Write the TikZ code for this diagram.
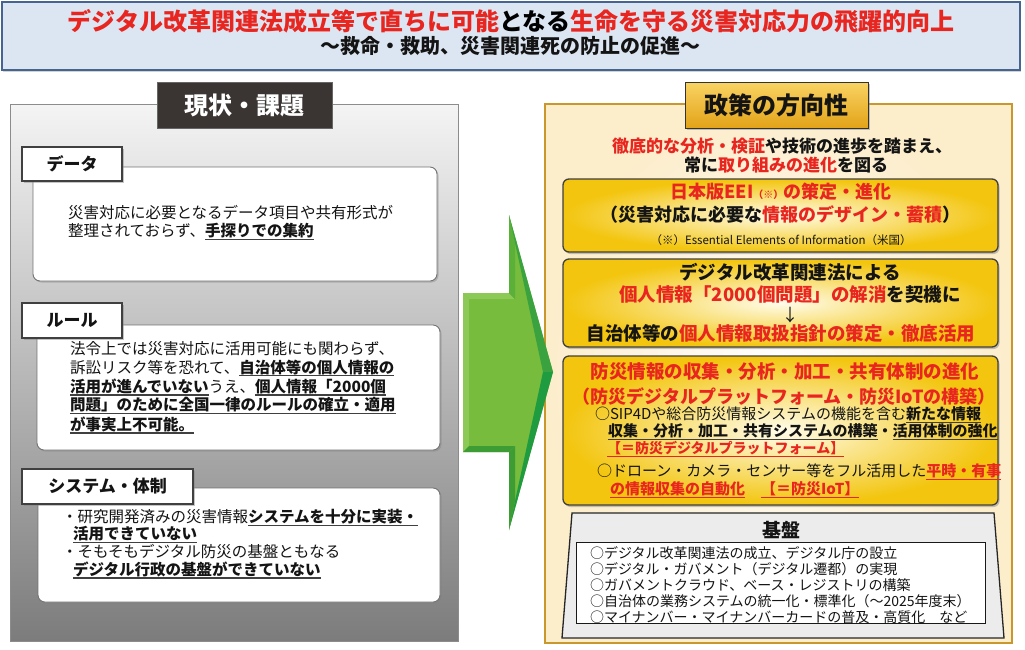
\documentclass[tikz,border=0pt]{standalone}
\usepackage{fontspec}
\setmainfont{Noto Sans CJK JP}
\usetikzlibrary{shadows}
\definecolor{jred}{HTML}{E8251F}
\definecolor{titlefill}{HTML}{DCE6F2}
\definecolor{titledraw}{HTML}{46648F}
\definecolor{paneltop}{HTML}{F4F4F4}
\definecolor{panelbot}{HTML}{7C7C7C}
\definecolor{headdark}{HTML}{3A3432}
\definecolor{goldline}{HTML}{C9972B}
\definecolor{creamout}{HTML}{FCEDCB}
\definecolor{yelout}{HTML}{F3C50E}
\definecolor{yelin}{HTML}{FFFCEA}
\definecolor{goldtop}{HTML}{F9D363}
\definecolor{goldbot}{HTML}{E2A318}
\definecolor{ulg}{HTML}{404040}
\definecolor{grA}{HTML}{77BC3C}
\definecolor{grLight}{HTML}{8DC957}
\definecolor{grMid}{HTML}{5BB03A}
\definecolor{grDark}{HTML}{3AA33F}
\definecolor{grDarker}{HTML}{1F9C40}
\definecolor{grBot}{HTML}{3E9C35}
\definecolor{basefill}{HTML}{ECECEC}
\newcommand\fsz[1]{\fontsize{#1}{#1}\selectfont}
\newcommand\ulx[2]{\setbox0\hbox{#2}\rlap{\color{#1}\rule[-3.4pt]{\wd0}{1.1pt}}\box0}
\newcommand\ulb[1]{\ulx{ulg}{\bfseries #1}}
\tikzset{
  every node/.style={inner sep=0pt, outer sep=0pt, text=black!92},
  titlebox/.style={fill=titlefill, draw=titledraw, line width=1.6pt, drop shadow={shadow xshift=1pt, shadow yshift=-2pt, opacity=.35}},
  leftpanel/.style={top color=paneltop, bottom color=panelbot, draw=black!45, line width=1pt},
  darkhead/.style={fill=headdark, draw=black!60, line width=.8pt},
  labelbox/.style={fill=white, draw=black!75, line width=2.4pt, drop shadow={shadow xshift=1.5pt, shadow yshift=-1.5pt, opacity=.45}},
  whitebox/.style={fill=white, draw=black!55, line width=.9pt, rounded corners=7pt, drop shadow={shadow xshift=1.5pt, shadow yshift=-1.5pt, opacity=.4}},
  rightpanel/.style={inner color=white, outer color=creamout, draw=goldline, line width=2.6pt},
  goldhead/.style={top color=goldtop, bottom color=goldbot, draw=black!80, line width=1pt, drop shadow={shadow xshift=1.5pt, shadow yshift=-1.5pt, opacity=.45}},
  yelbox/.style={inner color=yelin, outer color=yelout, draw=black!75, line width=1.3pt, rounded corners=6pt, drop shadow={shadow xshift=1.5pt, shadow yshift=-2pt, opacity=.45}},
  lefttxt/.style={anchor=west, font=\fsz{15.5}},
  basetxt/.style={anchor=west, font=\fsz{14}},
  subtxt/.style={anchor=west, font=\fsz{15}},
}
\begin{document}
\begin{tikzpicture}[x=1pt,y=-1pt]
\useasboundingbox (0,0) rectangle (1025,649);
\fill[white] (0,0) rectangle (1025,649);

% ---------- title ----------
\node[titlebox, minimum width=1018pt, minimum height=68pt] (title) at (511,36) {};
\node (t1) at (511,21) {\fsz{24}\bfseries\color{jred}デジタル改革関連法成立等で直ちに可能\textcolor{black}{となる}生命を守る災害対応力の飛躍的向上};
\node (t2) at (510,46) {\fsz{20}\bfseries ～救命・救助、災害関連死の防止の促進～};

% ---------- left panel ----------
\node[leftpanel, minimum width=448pt, minimum height=537pt] (lp) at (234,372.5) {};
\node[darkhead, minimum width=175pt, minimum height=46pt] (lh) at (244.5,105) {\fsz{24}\bfseries\color{white}現状・課題};

% data
\node[whitebox, minimum width=404pt, minimum height=114pt] (db) at (235,224) {};
\node[labelbox, minimum width=100pt, minimum height=34pt] (dl) at (72,164) {\fsz{17}\bfseries データ};
\node[lefttxt] (d1) at (68,213) {災害対応に必要となるデータ項目や共有形式が};
\node[lefttxt] (d2) at (68,232) {整理されておらず、\ulb{手探りでの集約}};

% rule
\node[whitebox, minimum width=403pt, minimum height=125pt] (rb) at (238.5,387.5) {};
\node[labelbox, minimum width=100pt, minimum height=35pt] (rl) at (72,320.5) {\fsz{17}\bfseries ルール};
\node[lefttxt] (r1) at (70,349) {法令上では災害対応に活用可能にも関わらず、};
\node[lefttxt] (r2) at (70,368) {訴訟リスク等を恐れて、\ulb{自治体等の個人情報の}};
\node[lefttxt] (r3) at (70,387) {\ulb{活用が進んでいない}うえ、\ulb{個人情報「2000個}};
\node[lefttxt] (r4) at (70,406) {\ulb{問題」のために全国一律のルールの確立・適用}};
\node[lefttxt] (r5) at (70,425) {\ulb{が事実上不可能。}};

% system
\node[whitebox, minimum width=402pt, minimum height=114pt] (sb) at (239,545) {};
\node[labelbox, minimum width=171pt, minimum height=35pt] (sl) at (107.5,486.5) {\fsz{17}\bfseries システム・体制};
\node[lefttxt] (s1) at (62,518) {・研究開発済みの災害情報\ulb{システムを十分に実装・}};
\node[lefttxt] (s2) at (73,535) {\ulb{活用できていない}};
\node[lefttxt] (s3) at (62,552) {・そもそもデジタル防災の基盤ともなる};
\node[lefttxt] (s4) at (73,570) {\ulb{デジタル行政の基盤ができていない}};

% ---------- right panel ----------
\node[rightpanel, minimum width=467pt, minimum height=539pt] (rp) at (778.5,373.5) {};
\node[goldhead, minimum width=183pt, minimum height=46pt] (rh) at (776.5,105) {\fsz{24}\bfseries 政策の方向性};
\node (h1) at (782,146) {\fsz{17}\bfseries\textcolor{jred}{徹底的な分析・検証}や技術の進歩を踏まえ、};
\node (h2) at (786,165) {\fsz{17}\bfseries 常に\textcolor{jred}{取り組みの進化}を図る};

% box 1
\node[yelbox, minimum width=435pt, minimum height=73pt] (b1) at (780.5,215.5) {};
\node (b1a) at (781,192) {\fsz{18}\bfseries\color{jred}日本版EEI{\fsz{10}（※）}の策定・進化};
\node (b1b) at (780,215) {\fsz{18}\bfseries（災害対応に必要な\textcolor{jred}{情報のデザイン・蓄積}）};
\node (b1c) at (781,240) {\fsz{11.5}（※）Essential Elements of Information（米国）};

% box 2
\node[yelbox, minimum width=435pt, minimum height=88pt] (b2) at (780.5,303) {};
\node (b2a) at (790,272) {\fsz{18.5}\bfseries デジタル改革関連法による};
\node (b2b) at (790,295) {\fsz{18.5}\bfseries\textcolor{jred}{個人情報「2000個問題」の解消}を契機に};
\node (b2c) at (790,315) {\fsz{17}↓};
\node (b2d) at (781,333) {\fsz{18.5}\bfseries 自治体等の\textcolor{jred}{個人情報取扱指針の策定・徹底活用}};

% box 3
\node[yelbox, minimum width=435pt, minimum height=149pt] (b3) at (780.5,430.5) {};
\node (b3a) at (785,372) {\fsz{18.5}\bfseries\color{jred}防災情報の収集・分析・加工・共有体制の進化};
\node (b3b) at (784,397) {\fsz{18}\bfseries\color{jred}（防災デジタルプラットフォーム・防災IoTの構築）};
\node[subtxt] (b3c) at (595,415) {○SIP4Dや総合防災情報システムの機能を含む\ulb{新たな情報}};
\node[subtxt] (b3d) at (608,432) {\ulb{収集・分析・加工・共有システムの構築}\textbf{・}\ulb{活用体制の強化}};
\node[anchor=west] (b3e) at (607,449) {\fsz{14}\bfseries\color{jred}\ulx{jred}{【＝防災デジタルプラットフォーム】}};
\node[subtxt] (b3f) at (597,472) {○ドローン・カメラ・センサー等をフル活用した\ulx{jred}{\bfseries\color{jred}平時・有事}};
\node[anchor=west] (b3g) at (610,490) {\fsz{15}\bfseries\color{jred}\ulx{jred}{の情報収集の自動化}\hspace{16pt}\ulx{jred}{【＝防災IoT】}};

% base
\draw[fill=basefill, draw=black!85, line width=1.3pt] (572,513) -- (994,513) -- (1004,638) -- (562,638) -- cycle;
\node (bt) at (781,530) {\fsz{19}\bfseries 基盤};
\node[fill=white, draw=black!90, line width=1pt, minimum width=409pt, minimum height=81pt] (bb) at (780.5,582.5) {};
\node[basetxt] (g1) at (590,553) {○デジタル改革関連法の成立、デジタル庁の設立};
\node[basetxt] (g2) at (590,569) {○デジタル・ガバメント（デジタル遷都）の実現};
\node[basetxt] (g3) at (590,585) {○ガバメントクラウド、ベース・レジストリの構築};
\node[basetxt] (g4) at (590,601) {○自治体の業務システムの統一化・標準化（～2025年度末）};
\node[basetxt] (g5) at (590,617) {○マイナンバー・マイナンバーカードの普及・高質化　など};

% ---------- green arrow ----------
\fill[grA] (463,293) -- (509,293) -- (509,215) -- (553,372) -- (509,530) -- (509,452) -- (463,452) -- cycle;
\fill[grLight] (463,293) -- (509,293) -- (515,299) -- (469,299) -- cycle;
\fill[grLight] (463,293) -- (469,299) -- (469,446) -- (463,452) -- cycle;
\fill[grMid] (509,293) -- (509,215) -- (515,243) -- (515,299) -- cycle;
\fill[grDark] (509,215) -- (553,372) -- (543,372) -- (515,243) -- cycle;
\fill[grDarker] (553,372) -- (509,530) -- (515,501) -- (543,372) -- cycle;
\fill[grBot] (463,452) -- (509,452) -- (515,446) -- (469,446) -- cycle;
\fill[grBot] (509,452) -- (509,530) -- (515,501) -- (515,446) -- cycle;
\end{tikzpicture}
\end{document}
